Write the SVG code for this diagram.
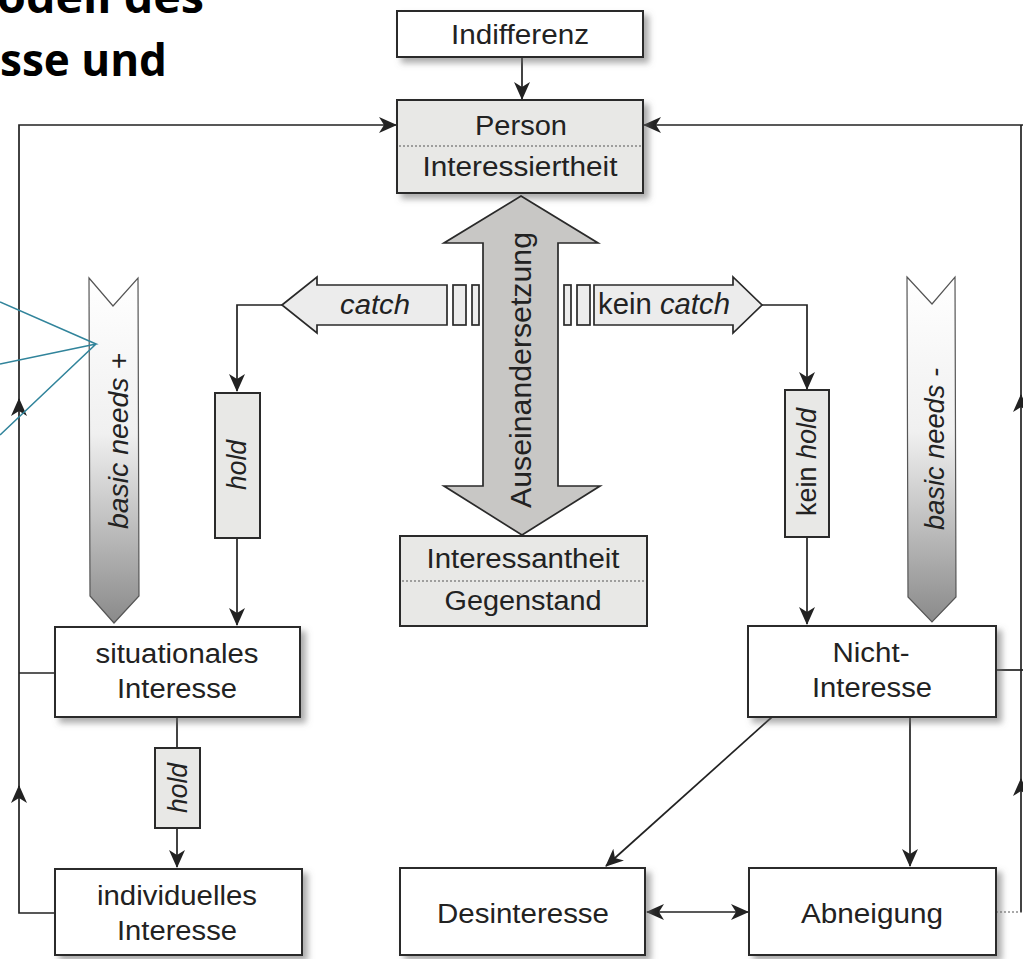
<svg xmlns="http://www.w3.org/2000/svg" width="1023" height="959" viewBox="0 0 1023 959">
<defs>
<style>
.t{font-family:"Liberation Sans",Arial,sans-serif;font-size:27px;fill:#222;text-anchor:middle}
.i{font-style:italic}
.box{fill:#fff;stroke:#2a2a2a;stroke-width:2}
.gb{fill:#e8e8e6;stroke:#2a2a2a;stroke-width:2}
.ln{fill:none;stroke:#222;stroke-width:1.7}
.dot{fill:none;stroke:#555;stroke-width:1.2;stroke-dasharray:2 2}
.teal{fill:none;stroke:#31849b;stroke-width:1.6}
.arr{fill:#ececec;stroke:#2a2a2a;stroke-width:1.7}
.nd{fill:url(#gn);stroke:#555;stroke-width:1.2}
.title{font-family:"Open Sans","Liberation Sans",sans-serif;font-weight:700;font-size:44px;fill:#000}
</style>
<marker id="ah" viewBox="0 0 18 16" markerWidth="18" markerHeight="16" refX="17" refY="8" orient="auto-start-reverse" markerUnits="userSpaceOnUse"><path d="M0,0 L18,8 L0,16 L5,8 Z" fill="#222"/></marker>
<linearGradient id="gn" x1="0" y1="0" x2="0" y2="1"><stop offset="0" stop-color="#fff"/><stop offset="0.45" stop-color="#f0f0f0"/><stop offset="1" stop-color="#8a8a8a"/></linearGradient>
<filter id="sh" x="-10%" y="-10%" width="130%" height="140%"><feDropShadow dx="5" dy="5" stdDeviation="3" flood-color="#666" flood-opacity="0.55"/></filter>
</defs>
<rect width="1023" height="959" fill="#fff"/>

<g id="title">
<text class="title" x="-3" y="13" textLength="207" lengthAdjust="spacingAndGlyphs">odell des</text>
<text class="title" x="0" y="76" textLength="167" lengthAdjust="spacingAndGlyphs">sse und</text>
</g>

<g id="connectors">
<path class="ln" d="M522,57 V99" marker-end="url(#ah)"/>
<path class="ln" d="M55,913 H19 V786" marker-end="url(#ah)"/>
<path class="ln" d="M19,790 V399" marker-end="url(#ah)"/>
<path class="ln" d="M19,403 V125 H396" marker-end="url(#ah)"/>
<path class="ln" d="M55,673 H19"/>
<path class="ln" d="M1023,125 H644" marker-end="url(#ah)"/>
<path class="ln" d="M1021,912 V779" marker-end="url(#ah)"/>
<path class="ln" d="M1021,783 V395" marker-end="url(#ah)"/>
<path class="ln" d="M1021,399 V125"/>
<path class="ln" d="M996,670 H1023"/>
<path class="dot" d="M996,912 H1023"/>
<path class="ln" d="M282,305 H237 V391" marker-end="url(#ah)"/>
<path class="ln" d="M237,538 V625" marker-end="url(#ah)"/>
<path class="ln" d="M762,305 H807 V389" marker-end="url(#ah)"/>
<path class="ln" d="M807,537 V624" marker-end="url(#ah)"/>
<path class="ln" d="M177,717 V748"/>
<path class="ln" d="M177,828 V867" marker-end="url(#ah)"/>
<path class="ln" d="M772,717 L606,866" marker-end="url(#ah)"/>
<path class="ln" d="M910,717 V866" marker-end="url(#ah)"/>
<path class="ln" d="M647,912 H748" marker-start="url(#ah)" marker-end="url(#ah)"/>
</g>

<g id="indifferenz">
<rect class="box" x="397" y="11" width="246" height="46" filter="url(#sh)"/>
<text class="t" x="520" y="44" textLength="138" lengthAdjust="spacingAndGlyphs">Indifferenz</text>
</g>

<g id="person">
<rect class="gb" x="397" y="100" width="246" height="93" filter="url(#sh)"/>
<line class="dot" x1="399" y1="146" x2="641" y2="146"/>
<text class="t" x="521" y="135" textLength="92" lengthAdjust="spacingAndGlyphs">Person</text>
<text class="t" x="520" y="176" textLength="195" lengthAdjust="spacingAndGlyphs">Interessiertheit</text>
</g>

<g id="auseinandersetzung">
<polygon points="521,196 598,243 558,243 558,486 600,486 522,535 444,486 483,486 483,243 444,243" fill="#c8c7c5" stroke="#2a2a2a" stroke-width="1.7"/>
<text class="t" style="font-size:30px" transform="translate(531,370) rotate(-90)" textLength="276" lengthAdjust="spacingAndGlyphs">Auseinandersetzung</text>
</g>

<g id="catch">
<polygon class="arr" points="282,305 317,277 317,285 447,285 447,325 317,325 317,333"/>
<rect class="arr" x="453" y="285" width="13" height="40" stroke-width="1.3"/>
<rect class="arr" x="472" y="285" width="7" height="40" stroke-width="1.3"/>
<text class="t i" x="375" y="314" textLength="70" lengthAdjust="spacingAndGlyphs">catch</text>
</g>

<g id="kein-catch">
<rect class="arr" x="564" y="285" width="7" height="40" stroke-width="1.3"/>
<rect class="arr" x="577" y="285" width="13" height="40" stroke-width="1.3"/>
<polygon class="arr" points="594,285 733,285 733,277 762,305 733,333 733,325 594,325"/>
<text class="t" x="664" y="314" style="font-size:29.3px">kein <tspan class="i">catch</tspan></text>
</g>

<g id="basic-needs-plus">
<polygon class="nd" points="89,278 113,306 138,278 139,596 114,623 90,596"/>
<text class="t i" transform="translate(128,441) rotate(-90)" textLength="176" lengthAdjust="spacingAndGlyphs">basic needs +</text>
</g>

<g id="basic-needs-minus">
<polygon class="nd" points="907,277 932,304 955,277 956,597 932,622 908,597"/>
<text class="t i" transform="translate(944,449) rotate(-90)" textLength="162" lengthAdjust="spacingAndGlyphs">basic needs -</text>
</g>

<g id="hold-1">
<rect class="gb" x="215" y="393" width="45" height="145"/>
<text class="t i" transform="translate(246,465) rotate(-90)" textLength="50" lengthAdjust="spacingAndGlyphs">hold</text>
</g>

<g id="kein-hold">
<rect class="gb" x="785" y="390" width="44" height="147"/>
<text class="t" transform="translate(816,462) rotate(-90)">kein <tspan class="i">hold</tspan></text>
</g>

<g id="interessantheit">
<rect class="gb" x="400" y="536" width="247" height="90"/>
<line class="dot" x1="402" y1="581" x2="645" y2="581"/>
<text class="t" x="523" y="568" textLength="193" lengthAdjust="spacingAndGlyphs">Interessantheit</text>
<text class="t" x="523" y="610" textLength="157" lengthAdjust="spacingAndGlyphs">Gegenstand</text>
</g>

<g id="situationales">
<rect class="box" x="55" y="627" width="245" height="90" filter="url(#sh)"/>
<text class="t" x="177" y="663" textLength="163" lengthAdjust="spacingAndGlyphs">situationales</text>
<text class="t" x="177" y="698" textLength="120" lengthAdjust="spacingAndGlyphs">Interesse</text>
</g>

<g id="hold-2">
<rect class="gb" x="155" y="748" width="45" height="80"/>
<text class="t i" transform="translate(187,788) rotate(-90)" textLength="50" lengthAdjust="spacingAndGlyphs">hold</text>
</g>

<g id="individuelles">
<rect class="box" x="55" y="869" width="247" height="86" filter="url(#sh)"/>
<text class="t" x="177" y="905" textLength="160" lengthAdjust="spacingAndGlyphs">individuelles</text>
<text class="t" x="177" y="940" textLength="120" lengthAdjust="spacingAndGlyphs">Interesse</text>
</g>

<g id="nicht-interesse">
<rect class="box" x="748" y="626" width="248" height="91" filter="url(#sh)"/>
<text class="t" x="871" y="662" textLength="77" lengthAdjust="spacingAndGlyphs">Nicht-</text>
<text class="t" x="872" y="697" textLength="120" lengthAdjust="spacingAndGlyphs">Interesse</text>
</g>

<g id="desinteresse">
<rect class="box" x="400" y="868" width="245" height="87" filter="url(#sh)"/>
<text class="t" x="523" y="923" textLength="172" lengthAdjust="spacingAndGlyphs">Desinteresse</text>
</g>

<g id="abneigung">
<rect class="box" x="749" y="868" width="247" height="87" filter="url(#sh)"/>
<text class="t" x="872" y="923" textLength="142" lengthAdjust="spacingAndGlyphs">Abneigung</text>
</g>

<g id="annotation">
<path class="teal" d="M0,302 L96,344 L0,364 M96,344 L0,435"/>
</g>
</svg>
